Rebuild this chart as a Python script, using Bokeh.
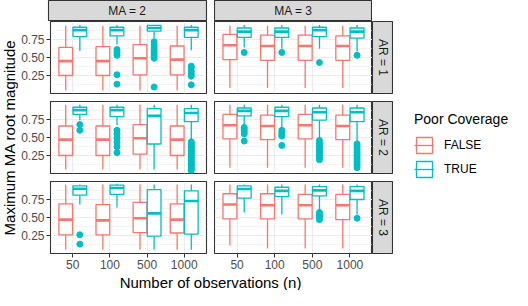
import math
from bokeh.plotting import figure
from bokeh.models import (Range1d, FixedTicker, ColumnDataSource, Legend, LegendItem,
                          NumeralTickFormatter, Spacer)
from bokeh.layouts import row, column
from bokeh.embed import file_html
from bokeh.resources import INLINE
from bokeh.core.properties import value

# ---------------- data ----------------
N_LABELS = ["50", "100", "500", "1000"]
MA_LEVELS = [2, 3]
AR_LEVELS = [1, 2, 3]
GROUPS = ["FALSE", "TRUE"]
Y_TICKS = [0.25, 0.50, 0.75]
Y_MINOR = [0.125, 0.375, 0.625, 0.875]

# AR = 1, MA = 2
AR1_MA2_FALSE = dict(lower=[0.04, 0.04, 0.04, 0.04], q1=[0.25, 0.25, 0.26, 0.26],
                     median=[0.45, 0.45, 0.49, 0.47], q3=[0.64, 0.65, 0.68, 0.66],
                     upper=[0.94, 0.94, 0.94, 0.94])
AR1_MA2_TRUE = dict(lower=[0.59, 0.68, 0.77, 0.60], q1=[0.79, 0.80, 0.865, 0.78],
                    median=[0.88, 0.88, 0.91, 0.88], q3=[0.92, 0.92, 0.945, 0.92],
                    upper=[0.95, 0.95, 0.95, 0.95])
AR1_MA2_TRUE_OUT = [[], [0.61, 0.57, 0.53, 0.26, 0.13],
                    [0.72, 0.68, 0.65, 0.61, 0.58, 0.55, 0.52, 0.49, 0.09],
                    [0.38, 0.35, 0.31, 0.27, 0.24, 0.12]]

# AR = 1, MA = 3
AR1_MA3_FALSE = dict(lower=[0.075, 0.075, 0.075, 0.075], q1=[0.47, 0.46, 0.46, 0.46],
                     median=[0.67, 0.66, 0.66, 0.66], q3=[0.82, 0.81, 0.81, 0.80],
                     upper=[0.94, 0.94, 0.94, 0.94])
AR1_MA3_TRUE = dict(lower=[0.64, 0.62, 0.62, 0.58], q1=[0.78, 0.78, 0.79, 0.77],
                    median=[0.86, 0.86, 0.88, 0.86], q3=[0.91, 0.91, 0.92, 0.91],
                    upper=[0.95, 0.95, 0.95, 0.95])
AR1_MA3_TRUE_OUT = [[0.57], [0.57], [0.43], [0.53]]

# AR = 2, MA = 2
AR2_MA2_FALSE = dict(lower=[0.057, 0.057, 0.057, 0.057], q1=[0.25, 0.25, 0.27, 0.25],
                     median=[0.47, 0.47, 0.49, 0.47], q3=[0.66, 0.66, 0.68, 0.66],
                     upper=[0.955, 0.955, 0.955, 0.955])
AR2_MA2_TRUE = dict(lower=[0.74, 0.67, 0.057, 0.47], q1=[0.82, 0.79, 0.41, 0.72],
                    median=[0.88, 0.88, 0.80, 0.84], q3=[0.92, 0.92, 0.90, 0.90],
                    upper=[0.955, 0.955, 0.955, 0.955])
AR2_MA2_TRUE_OUT = [[0.68, 0.60], [0.60, 0.55, 0.49, 0.43, 0.37, 0.29], [],
                    [0.44, 0.42, 0.40, 0.38, 0.36, 0.34, 0.32, 0.30, 0.28, 0.26, 0.24,
                     0.22, 0.20, 0.18, 0.16, 0.14, 0.12, 0.10, 0.08, 0.06, 0.04]]

# AR = 2, MA = 3
AR2_MA3_FALSE = dict(lower=[0.08, 0.08, 0.08, 0.08], q1=[0.48, 0.47, 0.48, 0.47],
                     median=[0.67, 0.66, 0.67, 0.66], q3=[0.82, 0.81, 0.82, 0.81],
                     upper=[0.955, 0.955, 0.955, 0.955])
AR2_MA3_TRUE = dict(lower=[0.67, 0.63, 0.50, 0.45], q1=[0.80, 0.79, 0.74, 0.72],
                    median=[0.87, 0.87, 0.85, 0.85], q3=[0.91, 0.92, 0.91, 0.91],
                    upper=[0.955, 0.955, 0.955, 0.955])
AR2_MA3_TRUE_OUT = [[0.64, 0.61, 0.58, 0.55, 0.45], [0.60, 0.57, 0.54, 0.52, 0.39],
                    [0.46, 0.43, 0.40, 0.37, 0.34, 0.31, 0.28, 0.25, 0.22, 0.19],
                    [0.41, 0.38, 0.35, 0.32, 0.29, 0.26, 0.23, 0.20, 0.17, 0.14, 0.11, 0.08]]

# AR = 3, MA = 2
AR3_MA2_FALSE = dict(lower=[0.053, 0.053, 0.053, 0.053], q1=[0.26, 0.26, 0.29, 0.285],
                     median=[0.47, 0.46, 0.49, 0.47], q3=[0.69, 0.68, 0.71, 0.69],
                     upper=[0.96, 0.96, 0.96, 0.96])
AR3_MA2_TRUE = dict(lower=[0.68, 0.64, 0.053, 0.053], q1=[0.81, 0.82, 0.24, 0.27],
                    median=[0.90, 0.91, 0.557, 0.73], q3=[0.94, 0.95, 0.886, 0.87],
                    upper=[0.96, 0.97, 0.96, 0.96])
AR3_MA2_TRUE_OUT = [[0.26, 0.13], [], [], []]

# AR = 3, MA = 3
AR3_MA3_FALSE = dict(lower=[0.11, 0.07, 0.07, 0.07], q1=[0.48, 0.48, 0.48, 0.47],
                     median=[0.68, 0.67, 0.67, 0.67], q3=[0.83, 0.83, 0.82, 0.82],
                     upper=[0.96, 0.96, 0.96, 0.96])
AR3_MA3_TRUE = dict(lower=[0.57, 0.54, 0.60, 0.54], q1=[0.77, 0.79, 0.80, 0.75],
                    median=[0.895, 0.87, 0.877, 0.87], q3=[0.94, 0.92, 0.93, 0.93],
                    upper=[0.96, 0.96, 0.96, 0.96])
AR3_MA3_TRUE_OUT = [[], [], [0.57, 0.55, 0.53, 0.51, 0.49, 0.47], [0.49]]

STATS = {
    (1, 2, "FALSE"): AR1_MA2_FALSE, (1, 2, "TRUE"): AR1_MA2_TRUE,
    (1, 3, "FALSE"): AR1_MA3_FALSE, (1, 3, "TRUE"): AR1_MA3_TRUE,
    (2, 2, "FALSE"): AR2_MA2_FALSE, (2, 2, "TRUE"): AR2_MA2_TRUE,
    (2, 3, "FALSE"): AR2_MA3_FALSE, (2, 3, "TRUE"): AR2_MA3_TRUE,
    (3, 2, "FALSE"): AR3_MA2_FALSE, (3, 2, "TRUE"): AR3_MA2_TRUE,
    (3, 3, "FALSE"): AR3_MA3_FALSE, (3, 3, "TRUE"): AR3_MA3_TRUE,
}
OUTLIERS = {
    (1, 2, "TRUE"): AR1_MA2_TRUE_OUT, (1, 3, "TRUE"): AR1_MA3_TRUE_OUT,
    (2, 2, "TRUE"): AR2_MA2_TRUE_OUT, (2, 3, "TRUE"): AR2_MA3_TRUE_OUT,
    (3, 2, "TRUE"): AR3_MA2_TRUE_OUT, (3, 3, "TRUE"): AR3_MA3_TRUE_OUT,
}

# ---------------- style / layout ----------------
COLORS = {"FALSE": "#F8766D", "TRUE": "#00BFC4"}
OFFSETS = {"FALSE": -0.19, "TRUE": 0.19}
BOX_W = 0.37
FONT = "Liberation Sans"
FRAME_W, FRAME_H = 158, 72
GAP_X, GAP_Y = 8, 8
LEFT_B, BOTTOM_B = 30, 20
STRIP_H, STRIP_W = 21, 21
YTITLE_W, XTITLE_H, LEGEND_W = 18, 17, 119
TOTAL_H = STRIP_H + 3 * FRAME_H + 2 * GAP_Y + BOTTOM_B + XTITLE_H
BORDER = "#333333"
LW = 1.3

common = dict(output_backend="svg", toolbar_location=None, title=None)


def blank(width, height, **kw):
    p = figure(width=width, height=height, x_range=Range1d(0, 1), y_range=Range1d(0, 1),
               x_axis_location=None, y_axis_location=None, min_border=0,
               min_border_left=kw.pop("mbl", 0), min_border_right=kw.pop("mbr", 0),
               min_border_top=0, min_border_bottom=kw.pop("mbb", 0), **common, **kw)
    p.grid.visible = False
    return p


def panel(ar, ma):
    is_left = ma == MA_LEVELS[0]
    is_bottom = ar == AR_LEVELS[-1]
    w = (LEFT_B + GAP_X if is_left else 0) + FRAME_W
    h = FRAME_H + (BOTTOM_B if is_bottom else GAP_Y)
    p = figure(width=w, height=h, x_range=Range1d(0.4, len(N_LABELS) + 0.6),
               y_range=Range1d(0.0, 1.0),
               x_axis_location="below" if is_bottom else None,
               y_axis_location="left" if is_left else None,
               min_border_left=LEFT_B if is_left else 0,
               min_border_right=GAP_X if is_left else 0,
               min_border_top=0, min_border_bottom=BOTTOM_B if is_bottom else GAP_Y,
               background_fill_color="white", outline_line_color=BORDER,
               outline_line_width=1.1, **common)
    p.xgrid.ticker = FixedTicker(ticks=list(range(1, len(N_LABELS) + 1)))
    p.ygrid.ticker = FixedTicker(ticks=Y_TICKS, minor_ticks=Y_MINOR)
    p.grid.grid_line_color = "#EBEBEB"
    p.grid.grid_line_width = 1.1
    p.ygrid.minor_grid_line_color = "#EBEBEB"
    p.ygrid.minor_grid_line_width = 0.6
    for ax in p.axis:
        ax.major_label_text_font = FONT
        ax.major_label_text_font_size = "12px"
        ax.major_label_text_color = "#4D4D4D"
        ax.major_tick_line_color = BORDER
        ax.major_tick_out = 4
        ax.major_tick_in = 0
        ax.minor_tick_line_color = None
        ax.axis_line_color = None
        ax.major_label_standoff = 2
    if is_left:
        p.yaxis.ticker = FixedTicker(ticks=Y_TICKS)
        p.yaxis.formatter = NumeralTickFormatter(format="0.00")
    if is_bottom:
        p.xaxis.ticker = FixedTicker(ticks=list(range(1, len(N_LABELS) + 1)))
        p.xaxis.major_label_overrides = {i + 1: lab for i, lab in enumerate(N_LABELS)}

    for g in GROUPS:
        st = STATS[(ar, ma, g)]
        c = COLORS[g]
        xs = [i + 1 + OFFSETS[g] for i in range(len(N_LABELS))]
        src = ColumnDataSource(dict(x=xs, x0=[x - BOX_W / 2 for x in xs],
                                    x1=[x + BOX_W / 2 for x in xs], **st))
        p.segment(x0="x", y0="q3", x1="x", y1="upper", source=src, line_color=c, line_width=LW)
        p.segment(x0="x", y0="lower", x1="x", y1="q1", source=src, line_color=c, line_width=LW)
        p.vbar(x="x", width=BOX_W, bottom="q1", top="q3", source=src,
               fill_color="white", line_color=c, line_width=LW)
        p.segment(x0="x0", y0="median", x1="x1", y1="median", source=src,
                  line_color=c, line_width=2.6)
        outs = OUTLIERS.get((ar, ma, g))
        if outs:
            ox, oy = [], []
            for x, vals in zip(xs, outs):
                ox += [x] * len(vals)
                oy += vals
            p.scatter(x=ox, y=oy, size=6, color=c)
    return p


def strip_top(label, left):
    p = blank((LEFT_B + GAP_X if left else 0) + FRAME_W, STRIP_H,
              mbl=LEFT_B if left else 0, mbr=GAP_X if left else 0,
              background_fill_color="#D9D9D9", outline_line_color=BORDER)
    p.outline_line_width = 1.1
    p.text(x=[0.5], y=[0.5], text=[label], text_align="center", text_baseline="middle",
           text_font=value(FONT), text_font_size="12px", text_color="#1A1A1A")
    return p


def strip_right(label, bottom):
    p = blank(STRIP_W, FRAME_H + (BOTTOM_B if bottom else GAP_Y),
              mbb=BOTTOM_B if bottom else GAP_Y,
              background_fill_color="#D9D9D9", outline_line_color=BORDER)
    p.outline_line_width = 1.1
    p.text(x=[0.5], y=[0.5], text=[label], text_align="center", text_baseline="middle",
           angle=-math.pi / 2, text_font=value(FONT), text_font_size="12px",
           text_color="#1A1A1A")
    return p


# top strips
rows = [row(strip_top("MA = %d" % MA_LEVELS[0], True),
            strip_top("MA = %d" % MA_LEVELS[1], False),
            Spacer(width=STRIP_W, height=STRIP_H))]
for ar in AR_LEVELS:
    rows.append(row(panel(ar, MA_LEVELS[0]), panel(ar, MA_LEVELS[1]),
                    strip_right("AR = %d" % ar, ar == AR_LEVELS[-1])))

mid_w = LEFT_B + GAP_X + 2 * FRAME_W + STRIP_W
xt = figure(width=mid_w, height=XTITLE_H, x_range=Range1d(0, mid_w), y_range=Range1d(0, XTITLE_H),
            x_axis_location=None, y_axis_location=None, min_border=0,
            outline_line_color=None, **common)
xt.grid.visible = False
xt.text(x=[LEFT_B + (2 * FRAME_W + GAP_X) / 2], y=[XTITLE_H / 2],
        text=["Number of observations (n)"], text_align="center", text_baseline="middle",
        text_font=value(FONT), text_font_size="15px", text_color="black")
rows.append(xt)

yt = figure(width=YTITLE_W, height=TOTAL_H, x_range=Range1d(0, YTITLE_W),
            y_range=Range1d(0, TOTAL_H), x_axis_location=None, y_axis_location=None,
            min_border=0, outline_line_color=None, **common)
yt.grid.visible = False
yt.text(x=[YTITLE_W / 2], y=[TOTAL_H - (STRIP_H + (3 * FRAME_H + 2 * GAP_Y) / 2)],
        text=["Maximum MA root magnitude"], text_align="center", text_baseline="middle",
        angle=math.pi / 2, text_font=value(FONT), text_font_size="15px", text_color="black")

# legend
lg = figure(width=LEGEND_W, height=TOTAL_H, x_range=Range1d(0, 1), y_range=Range1d(0, 1),
            x_axis_location=None, y_axis_location=None, min_border=0,
            outline_line_color=None, **common)
lg.grid.visible = False
items = []
NAN = float("nan")
for g in GROUPS:
    c = COLORS[g]
    src = ColumnDataSource(dict(x=[NAN], top=[NAN], bottom=[NAN], x0=[NAN], y0=[NAN],
                                x1=[NAN], y1=[NAN]))
    rb = lg.vbar(x="x", width=0.1, top="top", bottom="bottom", source=src,
                 fill_color="white", line_color=c, line_width=LW)
    rm = lg.segment(x0="x0", y0="y0", x1="x1", y1="y1", source=src,
                    line_color=c, line_width=LW)
    items.append(LegendItem(label=g, renderers=[rb, rm]))
legend = Legend(items=items, title="Poor Coverage", location=(21, 111),
                title_text_font=FONT, title_text_font_size="14px",
                title_text_font_style="normal", title_text_color="black",
                title_standoff=8, label_text_font=FONT, label_text_font_size="12px",
                label_text_color="black", glyph_width=20, glyph_height=20,
                label_standoff=10, spacing=4, padding=0, margin=0,
                border_line_color=None, background_fill_alpha=0)
lg.add_layout(legend, "center")

layout = row(yt, column(*rows), lg)

open("out.html", "w").write(file_html(layout, INLINE))
